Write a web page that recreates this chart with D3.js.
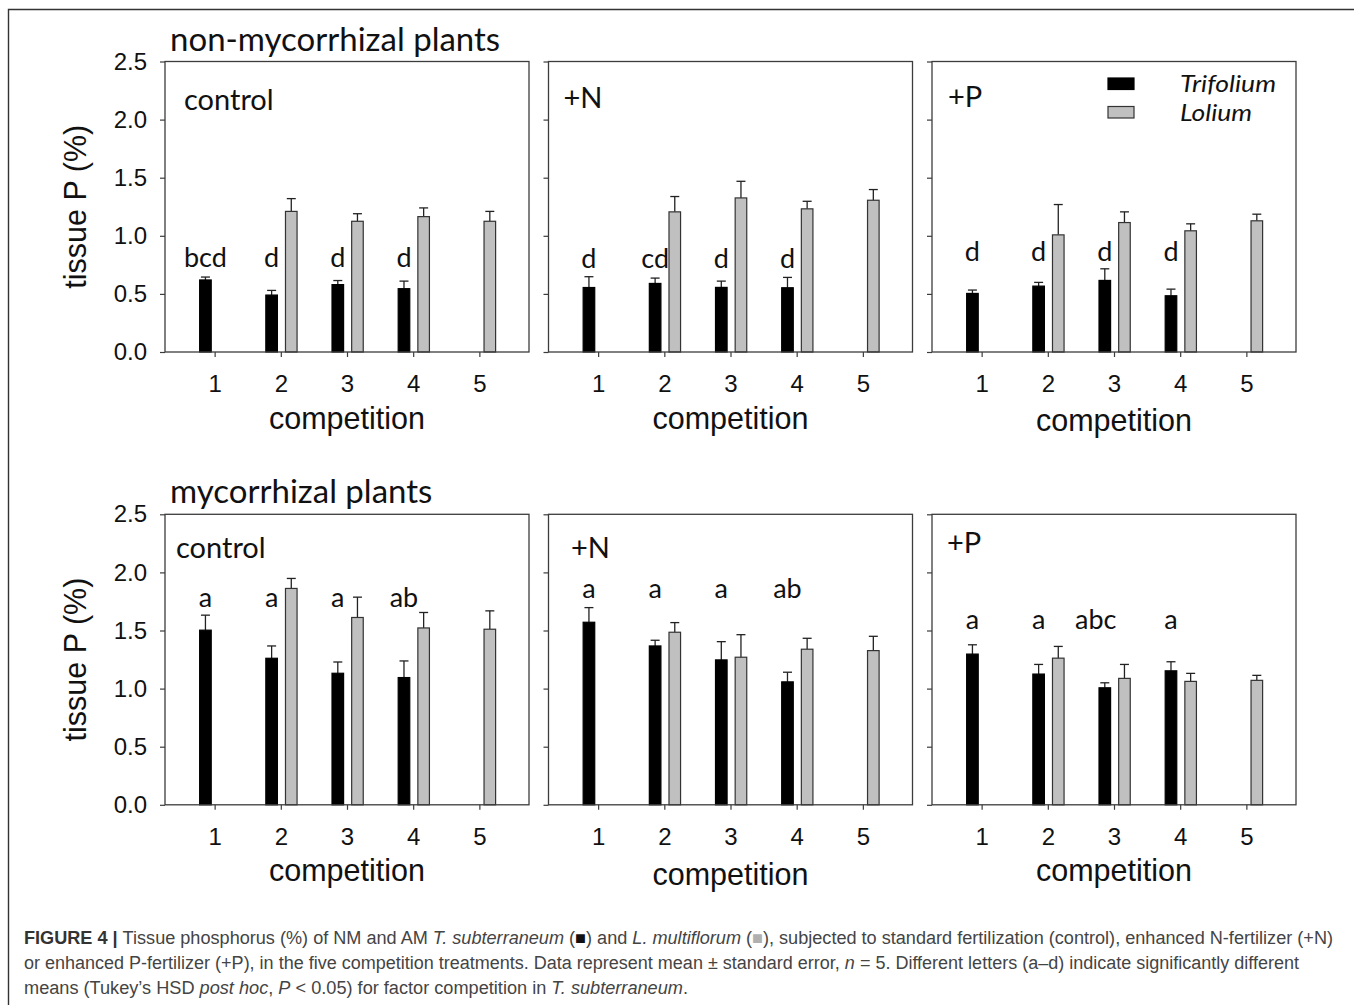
<!DOCTYPE html>
<html>
<head>
<meta charset="utf-8">
<script src="https://cdn.jsdelivr.net/npm/d3@7"></script>
<style>
  html, body { margin: 0; padding: 0; background: #fff; }
  svg { display: block; }
</style>
</head>
<body>
<svg id="fig" width="1354" height="1005"></svg>
<script>
// Competition treatments (x categories) and y-axis ticks
const competition = [1, 2, 3, 4, 5];
const yTicks = [0, 0.5, 1.0, 1.5, 2.0, 2.5];

// Non-mycorrhizal plants: tissue P (%) mean and standard error
const nmControlTrifolium   = [0.62, 0.49, 0.58, 0.545, null];
const nmControlTrifoliumSE = [0.025, 0.04, 0.035, 0.065, null];
const nmControlLolium      = [null, 1.21, 1.125, 1.165, 1.125];
const nmControlLoliumSE    = [null, 0.11, 0.065, 0.075, 0.085];
const nmControlLetters     = ["bcd", "d", "d", "d", ""];

const nmNTrifolium   = [0.555, 0.59, 0.556, 0.553, null];
const nmNTrifoliumSE = [0.093, 0.046, 0.054, 0.089, null];
const nmNLolium      = [null, 1.206, 1.326, 1.232, 1.306];
const nmNLoliumSE    = [null, 0.132, 0.143, 0.065, 0.092];
const nmNLetters     = ["d", "cd", "d", "d", ""];

const nmPTrifolium   = [0.504, 0.567, 0.616, 0.484, null];
const nmPTrifoliumSE = [0.029, 0.032, 0.100, 0.057, null];
const nmPLolium      = [null, 1.008, 1.114, 1.043, 1.129];
const nmPLoliumSE    = [null, 0.261, 0.092, 0.060, 0.057];
const nmPLetters     = ["d", "d", "d", "d", ""];

// Mycorrhizal plants
const amControlTrifolium   = [1.503, 1.261, 1.132, 1.095, null];
const amControlTrifoliumSE = [0.129, 0.106, 0.097, 0.143, null];
const amControlLolium      = [null, 1.862, 1.612, 1.522, 1.511];
const amControlLoliumSE    = [null, 0.086, 0.175, 0.133, 0.158];
const amControlLetters     = ["a", "a", "a", "ab", ""];

const amNTrifolium   = [1.571, 1.367, 1.247, 1.058, null];
const amNTrifoliumSE = [0.126, 0.049, 0.157, 0.083, null];
const amNLolium      = [null, 1.485, 1.270, 1.339, 1.327];
const amNLoliumSE    = [null, 0.083, 0.194, 0.094, 0.123];
const amNLetters     = ["a", "a", "a", "ab", ""];

const amPTrifolium   = [1.297, 1.125, 1.007, 1.153, null];
const amPTrifoliumSE = [0.080, 0.083, 0.043, 0.078, null];
const amPLolium      = [null, 1.262, 1.088, 1.062, 1.071];
const amPLoliumSE    = [null, 0.101, 0.120, 0.069, 0.043];
const amPLetters     = ["a", "a", "abc", "a", ""];

const seriesNames = ["Trifolium", "Lolium"];
const rowTitles = ["non-mycorrhizal plants", "mycorrhizal plants"];
const treatmentNames = ["control", "+N", "+P"];

// ---- layout ----
const svg = d3.select("#fig");
const W = 364;                       // panel width
const colLeft = [165, 548.5, 932];
const rowTop = [61.5, 514.3];
const H = 290.5;                     // panel height
const BLACK = "#000", GREY = "#c0c0c0", AXIS = "#3c3c3c";
const calibriLike = "Lato, 'Open Sans', sans-serif";
const arialLike = "'Liberation Sans', Arial, sans-serif";

// per-panel placement of the treatment label, the letter row (data units)
// and the x-axis title baseline
const panelLayout = [
  [{lx: 19, ly: 48.5, letterY: 0.73, letterDx: 0, tY: 77},
   {lx: 15, ly: 46.5, letterY: 0.725, letterDx: 0, tY: 77},
   {lx: 16, ly: 45, letterY: 0.785, letterDx: 0, tY: 79}],
  [{lx: 11, ly: 44, letterY: 1.70, letterDx: 0, tY: 76},
   {lx: 22.5, ly: 44, letterY: 1.78, letterDx: 0, tY: 80},
   {lx: 15, ly: 39, letterY: 1.51, letterDx: -3, tY: 76}]
];

const panels = [
  [
    {tri: nmControlTrifolium, triSE: nmControlTrifoliumSE, lol: nmControlLolium, lolSE: nmControlLoliumSE, letters: nmControlLetters},
    {tri: nmNTrifolium, triSE: nmNTrifoliumSE, lol: nmNLolium, lolSE: nmNLoliumSE, letters: nmNLetters},
    {tri: nmPTrifolium, triSE: nmPTrifoliumSE, lol: nmPLolium, lolSE: nmPLoliumSE, letters: nmPLetters}
  ],
  [
    {tri: amControlTrifolium, triSE: amControlTrifoliumSE, lol: amControlLolium, lolSE: amControlLoliumSE, letters: amControlLetters},
    {tri: amNTrifolium, triSE: amNTrifoliumSE, lol: amNLolium, lolSE: amNLoliumSE, letters: amNLetters},
    {tri: amPTrifolium, triSE: amPTrifoliumSE, lol: amPLolium, lolSE: amPLoliumSE, letters: amPLetters}
  ]
];

// outer figure frame (top and left rules)
svg.append("path")
  .attr("d", "M8.5,1005 L8.5,9.5 L1354,9.5")
  .attr("fill", "none").attr("stroke", "#333").attr("stroke-width", 1.4);

const barOffset = {Trifolium: -0.139, Lolium: 0.158};
const barW = 0.19;

panels.forEach((row, r) => {
  // row title
  svg.append("text")
    .attr("x", 170).attr("y", rowTop[r] - 11)
    .attr("font-family", calibriLike).attr("font-size", 33)
    .attr("fill", "#111")
    .text(rowTitles[r]);

  // y-axis title
  svg.append("text")
    .attr("transform", `translate(86,${rowTop[r] + H / 2}) rotate(-90)`)
    .attr("text-anchor", "middle")
    .attr("font-family", arialLike).attr("font-size", 30.5)
    .attr("fill", "#111")
    .text("tissue P (%)");

  row.forEach((p, c) => {
    const left = colLeft[c], top = rowTop[r];
    const lay = panelLayout[r][c];
    const x = d3.scaleLinear().domain([0.25, 5.75]).range([left, left + W]);
    const y = d3.scaleLinear().domain([0, 2.5]).range([top + H, top]);
    const g = svg.append("g");

    // y axis
    const yAxis = d3.axisLeft(y).tickValues(yTicks).tickSize(5).tickPadding(13)
      .tickFormat(c === 0 ? d3.format(".1f") : () => "");
    const ya = g.append("g").attr("transform", `translate(${left},0)`).call(yAxis);
    ya.select(".domain").remove();
    ya.selectAll("line").attr("stroke", AXIS).attr("stroke-width", 1.2);
    ya.selectAll("text").attr("font-family", arialLike).attr("font-size", 24).attr("fill", "#111");

    // x axis
    const xAxis = d3.axisBottom(x).tickValues(competition).tickSize(5).tickPadding(18)
      .tickFormat(d3.format("d"));
    const xa = g.append("g").attr("transform", `translate(0,${top + H})`).call(xAxis);
    xa.select(".domain").remove();
    xa.selectAll("line").attr("stroke", AXIS).attr("stroke-width", 1.2);
    xa.selectAll("text").attr("font-family", arialLike).attr("font-size", 24).attr("fill", "#111");

    // x-axis title
    g.append("text")
      .attr("x", left + W / 2).attr("y", top + H + lay.tY)
      .attr("text-anchor", "middle")
      .attr("font-family", arialLike).attr("font-size", 30.5).attr("fill", "#111")
      .text("competition");

    // bars + upward error bars
    const series = [
      {name: "Trifolium", vals: p.tri, se: p.triSE, fill: BLACK, stroke: BLACK},
      {name: "Lolium", vals: p.lol, se: p.lolSE, fill: GREY, stroke: "#333"}
    ];
    series.forEach(s => {
      const data = competition.map((k, i) => ({k, v: s.vals[i], e: s.se[i]})).filter(d => d.v != null);
      const cx = d => x(d.k + barOffset[s.name]);
      const half = (x(barW) - x(0)) / 2;
      g.selectAll(null).data(data).enter().append("line")
        .attr("x1", cx).attr("x2", cx)
        .attr("y1", d => y(d.v)).attr("y2", d => y(d.v + d.e))
        .attr("stroke", "#222").attr("stroke-width", 1.3);
      g.selectAll(null).data(data).enter().append("line")
        .attr("x1", d => cx(d) - 4.5).attr("x2", d => cx(d) + 4.5)
        .attr("y1", d => y(d.v + d.e)).attr("y2", d => y(d.v + d.e))
        .attr("stroke", "#222").attr("stroke-width", 1.3);
      g.selectAll(null).data(data).enter().append("rect")
        .attr("x", d => cx(d) - half + 0.5).attr("width", 2 * half - 1)
        .attr("y", d => y(d.v)).attr("height", d => y(0) - y(d.v))
        .attr("fill", s.fill).attr("stroke", s.stroke).attr("stroke-width", 1.2);
    });

    // significance letters above Trifolium bars
    g.selectAll(null).data(competition.map((k, i) => ({k, t: p.letters[i]})).filter(d => d.t))
      .enter().append("text")
      .attr("x", d => x(d.k + barOffset.Trifolium) + (d.t.length > 2 ? lay.letterDx * 3 : 0))
      .attr("y", y(lay.letterY))
      .attr("text-anchor", "middle")
      .attr("font-family", calibriLike).attr("font-size", 27).attr("fill", "#111")
      .text(d => d.t);

    // treatment label
    g.append("text")
      .attr("x", left + lay.lx).attr("y", top + lay.ly)
      .attr("font-family", calibriLike).attr("font-size", 29).attr("fill", "#111")
      .text(treatmentNames[c]);

    // panel frame
    g.append("rect")
      .attr("x", left).attr("y", top).attr("width", W).attr("height", H)
      .attr("fill", "none").attr("stroke", AXIS).attr("stroke-width", 1.3);
  });
});

// legend (top-right panel)
const legend = svg.append("g");
const legendFills = [BLACK, GREY];
const legendTextWidth = [96, 72];
seriesNames.forEach((name, i) => {
  legend.append("rect")
    .attr("x", 1108).attr("y", 78 + i * 28.5).attr("width", 26).attr("height", 11.5)
    .attr("fill", legendFills[i]).attr("stroke", i ? "#333" : BLACK).attr("stroke-width", 1.2);
  legend.append("text")
    .attr("x", 1180).attr("y", 92 + i * 28.5)
    .attr("font-family", calibriLike).attr("font-style", "italic").attr("font-size", 23)
    .attr("textLength", legendTextWidth[i]).attr("lengthAdjust", "spacingAndGlyphs")
    .attr("fill", "#111")
    .text(name);
});

// caption
const capFont = arialLike;
const caption = svg.append("g").attr("font-family", capFont).attr("font-size", 18).attr("fill", "#444");
const line1 = caption.append("text").attr("x", 24).attr("y", 944)
  .attr("textLength", 1309).attr("lengthAdjust", "spacingAndGlyphs");
line1.append("tspan").attr("font-weight", "bold").attr("fill", "#333").text("FIGURE 4 | ");
line1.append("tspan").text("Tissue phosphorus (%) of NM and AM ");
line1.append("tspan").attr("font-style", "italic").text("T. subterraneum");
line1.append("tspan").text(" (");
line1.append("tspan").attr("fill", "#111").text("■");
line1.append("tspan").text(") and ");
line1.append("tspan").attr("font-style", "italic").text("L. multiflorum");
line1.append("tspan").text(" (");
line1.append("tspan").attr("fill", "#b0b0b0").text("■");
line1.append("tspan").text("), subjected to standard fertilization (control), enhanced N-fertilizer (+N)");

const line2 = caption.append("text").attr("x", 24).attr("y", 969)
  .attr("textLength", 1275).attr("lengthAdjust", "spacingAndGlyphs");
line2.append("tspan").text("or enhanced P-fertilizer (+P), in the five competition treatments. Data represent mean ± standard error, ");
line2.append("tspan").attr("font-style", "italic").text("n");
line2.append("tspan").text(" = 5. Different letters (a–d) indicate significantly different");

const line3 = caption.append("text").attr("x", 24).attr("y", 994)
  .attr("textLength", 664).attr("lengthAdjust", "spacingAndGlyphs");
line3.append("tspan").text("means (Tukey’s HSD ");
line3.append("tspan").attr("font-style", "italic").text("post hoc");
line3.append("tspan").text(", ");
line3.append("tspan").attr("font-style", "italic").text("P");
line3.append("tspan").text(" < 0.05) for factor competition in ");
line3.append("tspan").attr("font-style", "italic").text("T. subterraneum");
line3.append("tspan").text(".");
</script>
</body>
</html>
